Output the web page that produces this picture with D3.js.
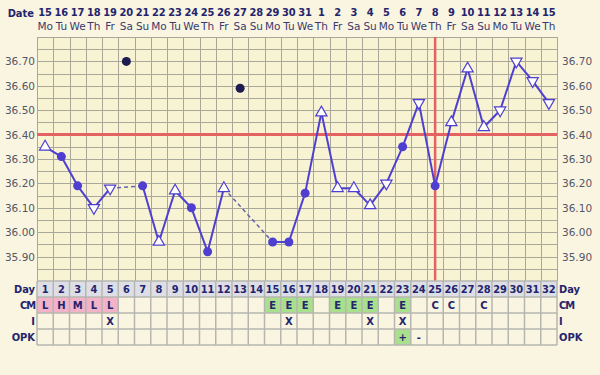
<!DOCTYPE html>
<html>
<head>
<meta charset="utf-8">
<script src="https://cdn.jsdelivr.net/npm/d3@7"></script>
<style>
  body { margin: 0; background: #f9f5e0; }
  svg { display: block; font-family: "DejaVu Sans", Verdana, sans-serif; }
  .cond { font-family: "DejaVu Sans Condensed", "DejaVu Sans", sans-serif; }
</style>
</head>
<body>
<div id="chart"></div>
<script>
var days = d3.range(1, 33);
var dates = [15,16,17,18,19,20,21,22,23,24,25,26,27,28,29,30,31,1,2,3,4,5,6,7,8,9,10,11,12,13,14,15];
var weekdays = ["Mo","Tu","We","Th","Fr","Sa","Su"];
var temps = [36.35,36.31,36.19,36.10,36.18,36.70,36.19,35.96,36.17,36.10,35.92,36.18,36.59,null,35.96,35.96,36.16,36.49,36.18,36.18,36.11,36.20,36.35,36.53,36.19,36.45,36.67,36.43,36.50,36.70,36.62,36.53];
// dot = filled circle, up/down = open triangles, off = discarded
var marks = ["up","dot","dot","down","down","off","dot","up","up","dot","dot","up","off",null,"dot","dot","dot","up","up","up","up","down","dot","down","dot","up","up","up","down","down","down","down"];
var cm = ["L","H","M","L","L","","","","","","","","","","E","E","E","","E","E","E","","E","","C","C","","C","","","",""];
var intercourse = [5,16,21,23];
var opk = {23: "+", 24: "-"};
var coverline = 36.40;
var ovulationDay = 25;
var yTicks = [35.90,36.00,36.10,36.20,36.30,36.40,36.50,36.60,36.70];

var width = 600, height = 375;
var svg = d3.select("#chart").append("svg").attr("width", width).attr("height", height);

var x = d3.scaleBand().domain(days).range([37, 557]);
var y = d3.scaleLinear().domain([35.8, 36.8]).range([281, 37]);
var cx = function(d) { return x(d) + x.bandwidth() / 2; };

var navy = "#24246e", lineCol = "#4f3fd0", red = "#e46262";

// chart background + grid
svg.append("rect").attr("x", 37).attr("y", 37).attr("width", 520).attr("height", 244).attr("fill", "#f7f3d3");
var grid = svg.append("g").attr("stroke", "#a9a79a").attr("stroke-width", 1);
grid.selectAll(".h").data(d3.range(0, 21)).enter().append("line")
    .attr("x1", 37).attr("x2", 557)
    .attr("y1", function(i) { return Math.round(y(35.8 + i * 0.05)) + 0.5; })
    .attr("y2", function(i) { return Math.round(y(35.8 + i * 0.05)) + 0.5; });
grid.selectAll(".v").data(d3.range(0, 33)).enter().append("line")
    .attr("y1", 37).attr("y2", 281)
    .attr("x1", function(i) { return Math.round(37 + i * x.bandwidth()) + 0.5; })
    .attr("x2", function(i) { return Math.round(37 + i * x.bandwidth()) + 0.5; });

// header
svg.append("text").attr("class", "cond").attr("x", 34).attr("y", 17).attr("text-anchor", "end")
    .attr("font-size", 11).attr("font-weight", "bold").attr("fill", navy).text("Date");
svg.selectAll(".date").data(days).enter().append("text")
    .attr("class", "cond")
    .attr("x", cx).attr("y", 16).attr("text-anchor", "middle")
    .attr("font-size", 11).attr("font-weight", "bold").attr("fill", navy)
    .text(function(d) { return dates[d - 1]; });
svg.selectAll(".wd").data(days).enter().append("text")
    .attr("x", cx).attr("y", 30).attr("text-anchor", "middle")
    .attr("font-size", 10.5).attr("fill", "#3a3a70")
    .text(function(d) { return weekdays[(d - 1) % 7]; });

// y labels both sides
yTicks.forEach(function(t) {
    svg.append("text").attr("x", 35).attr("y", y(t) + 4).attr("text-anchor", "end")
        .attr("font-size", 10.5).attr("fill", "#555566").text(t.toFixed(2));
    svg.append("text").attr("x", 562).attr("y", y(t) + 4)
        .attr("font-size", 10.5).attr("fill", "#555566").text(t.toFixed(2));
});

// coverline and ovulation line
svg.append("line").attr("x1", 37).attr("x2", 557).attr("y1", y(coverline)).attr("y2", y(coverline))
    .attr("stroke", red).attr("stroke-width", 3);
svg.append("line").attr("x1", cx(ovulationDay)).attr("x2", cx(ovulationDay)).attr("y1", 37).attr("y2", 281)
    .attr("stroke", red).attr("stroke-width", 2.5);

// temperature lines
var pts = days.filter(function(d) { return temps[d - 1] != null && marks[d - 1] !== "off"; });
var segs = [];
for (var i = 1; i < pts.length; i++) segs.push([pts[i - 1], pts[i]]);
svg.selectAll(".seg").data(segs).enter().append("line")
    .attr("x1", function(s) { return cx(s[0]); })
    .attr("y1", function(s) { return y(temps[s[0] - 1]); })
    .attr("x2", function(s) { return cx(s[1]); })
    .attr("y2", function(s) { return y(temps[s[1] - 1]); })
    .attr("stroke", function(s) { return s[1] - s[0] > 1 ? "#6a64a8" : lineCol; })
    .attr("stroke-width", function(s) { return s[1] - s[0] > 1 ? 1.5 : 2; })
    .attr("stroke-dasharray", function(s) { return s[1] - s[0] > 1 ? "4,3" : null; });

// markers
var tri = d3.symbol().type(d3.symbolTriangle).size(55);
days.forEach(function(d) {
    var m = marks[d - 1], t = temps[d - 1];
    if (t == null) return;
    if (m === "dot") {
        svg.append("circle").attr("cx", cx(d)).attr("cy", y(t)).attr("r", 4.5).attr("fill", lineCol);
    } else if (m === "off") {
        svg.append("circle").attr("cx", cx(d)).attr("cy", y(t)).attr("r", 4.5).attr("fill", "#1c1c50");
    } else {
        svg.append("path").attr("d", tri)
            .attr("transform", "translate(" + cx(d) + "," + y(t) + ")" + (m === "down" ? " rotate(180)" : ""))
            .attr("fill", "#ffffff").attr("stroke", lineCol).attr("stroke-width", 1.2);
    }
});

// bottom table
var rows = ["Day", "CM", "I", "OPK"];
var rowTop = 281, rowH = 16;
var table = svg.append("g");
table.append("rect").attr("x", 37).attr("y", rowTop).attr("width", 520).attr("height", rowH).attr("fill", "#dedfe6");
days.forEach(function(d) {
    var c = cm[d - 1];
    if (c === "L" || c === "H" || c === "M") {
        table.append("rect").attr("x", x(d)).attr("y", rowTop + rowH).attr("width", x.bandwidth()).attr("height", rowH).attr("fill", "#f2b3c9");
    } else if (c === "E") {
        table.append("rect").attr("x", x(d)).attr("y", rowTop + rowH).attr("width", x.bandwidth()).attr("height", rowH).attr("fill", "#a9e08e");
    }
    if (opk[d] === "+") {
        table.append("rect").attr("x", x(d)).attr("y", rowTop + 3 * rowH).attr("width", x.bandwidth()).attr("height", rowH).attr("fill", "#a9e08e");
    }
});
var tg = table.append("g").attr("stroke", "#b6b6b0").attr("stroke-width", 1.5);
d3.range(0, 5).forEach(function(r) {
    tg.append("line").attr("x1", 37).attr("x2", 557).attr("y1", rowTop + r * rowH).attr("y2", rowTop + r * rowH);
});
d3.range(0, 33).forEach(function(i) {
    var xx = 37 + i * x.bandwidth();
    tg.append("line").attr("x1", xx).attr("x2", xx).attr("y1", rowTop).attr("y2", rowTop + 4 * rowH);
});
rows.forEach(function(r, i) {
    var yy = rowTop + i * rowH + 12;
    table.append("text").attr("class", "cond").attr("x", 35).attr("y", yy).attr("text-anchor", "end")
        .attr("font-size", 11).attr("font-weight", "bold").attr("fill", navy)
        .attr("letter-spacing", r === "CM" ? -1 : 0).text(r);
    table.append("text").attr("class", "cond").attr("x", 559).attr("y", yy)
        .attr("font-size", 11).attr("font-weight", "bold").attr("fill", navy)
        .attr("letter-spacing", r === "CM" ? -1 : 0).text(r);
});
table.selectAll(".dn").data(days).enter().append("text")
    .attr("class", "cond")
    .attr("x", cx).attr("y", rowTop + 12).attr("text-anchor", "middle")
    .attr("font-size", 11).attr("font-weight", "bold").attr("fill", navy)
    .text(function(d) { return d; });
table.selectAll(".cm").data(days).enter().append("text")
    .attr("x", cx).attr("y", rowTop + rowH + 12).attr("text-anchor", "middle")
    .attr("font-size", 10).attr("font-weight", "bold").attr("fill", navy)
    .text(function(d) { return cm[d - 1]; });
table.selectAll(".ix").data(intercourse).enter().append("text")
    .attr("x", cx).attr("y", rowTop + 2 * rowH + 12).attr("text-anchor", "middle")
    .attr("font-size", 10).attr("font-weight", "bold").attr("fill", navy).text("X");
table.selectAll(".opk").data(Object.keys(opk)).enter().append("text")
    .attr("x", function(d) { return cx(+d); }).attr("y", rowTop + 3 * rowH + 12).attr("text-anchor", "middle")
    .attr("font-size", 10).attr("font-weight", "bold").attr("fill", navy)
    .text(function(d) { return opk[d]; });
</script>
</body>
</html>
